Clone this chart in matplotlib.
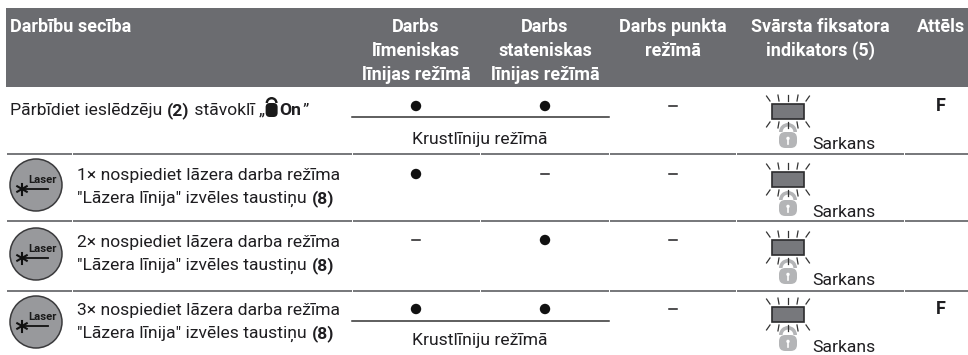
import matplotlib
matplotlib.use('Agg')
import matplotlib.pyplot as plt
from matplotlib.patches import Rectangle, Circle, FancyBboxPatch, Wedge
import numpy as np

plt.rcParams['font.family'] = ['Roboto', 'DejaVu Sans']

col_headers = [
    'Darbs\nlīmeniskas\nlīnijas režīmā',
    'Darbs\nstateniskas\nlīnijas režīmā',
    'Darbs punkta\nrežīmā',
    'Svārsta fiksatora\nindikators (5)',
    'Attēls',
]
first_header = 'Darbību secība'
step_lines = [
    '× nospiediet lāzera darba režīma',
    '"Lāzera līnija" izvēles taustiņu ',
]
# marks per row for the horizontal, vertical and point columns
horizontal = ['dot', 'dot', 'dash', 'dot']
vertical = ['dot', 'dash', 'dot', 'dot']
point = ['dash', 'dash', 'dash', 'dash']
figure_col = ['F', '', '', 'F']
cross_mode = [True, False, False, True]
indicator_text = 'Sarkans'
cross_text = 'Krustlīniju režīmā'

col_x = [416, 545, 673, 820, 941]
col_gaps = [72, 352, 480, 609, 736, 904]
row_lines = [154, 221, 291]
mark_y = [106, 174, 240, 309]
indicator_y = [104, 172, 240, 307]
step_base = [0, 180, 247, 315]
cross_base = [144, 0, 0, 345]
rule_y = [117, 0, 0, 320.5]
button_y = [0, 185, 254, 322]
HEAD = '#6b6c70'
LINE = '#5f6063'
INK = '#1f1e21'
FS = 12.6
FS_HEAD = 13.0

fig = plt.figure(figsize=(9.68, 3.55), dpi=100)
ax = fig.add_axes([0, 0, 1, 1])
ax.set_xlim(0, 968)
ax.set_ylim(355, 0)
ax.axis('off')


def put_runs(x, y, runs, size=FS):
    # text pieces next to each other, bold or regular
    r = fig.canvas.get_renderer()
    for s, weight in runs:
        t = ax.text(x, y, s, fontsize=size, fontweight=weight, color=INK, ha='left', va='baseline')
        x = ax.transData.inverted().transform(t.get_window_extent(r).p1)[0] + 0.5
    return x


def draw_mark(kind, x, y):
    if kind == 'dot':
        ax.add_patch(Circle((x, y), 5.2, fc='#111111', ec='none'))
    else:
        ax.plot([x - 4, x + 4], [y, y], color=INK, lw=1.1)


def draw_lock(x, y, w, h, color, hole='white'):
    ax.add_patch(Wedge((x, y), w / 2, 180, 360, width=w * 0.2, fc=color, ec='none', zorder=3))
    ax.add_patch(FancyBboxPatch((x - w / 2, y), w, h, boxstyle='round,pad=0,rounding_size=%f' % (w * 0.35),
                                fc=color, ec='none', zorder=3))
    if hole:
        ax.add_patch(Circle((x, y + h * 0.4), 1.7, fc=hole, ec='none', zorder=4))
        ax.plot([x, x], [y + h * 0.4, y + h * 0.75], color=hole, lw=1.2, zorder=4)


def draw_indicator(top):
    cx = 788
    draw_lock(cx, top + 28, 18, 16, '#b4b5b7')
    ax.add_patch(Rectangle((cx - 16, top), 32, 15, fc='#77787c', ec='#2c2c2e', lw=1.2, zorder=5))
    for dx, ang in zip([-18, -9, 0, 9, 18], [-35, -10, 0, 10, 35]):
        a = np.radians(ang)
        ax.plot([cx + dx, cx + dx + 6 * np.sin(a)], [top - 3, top - 3 - 6 * np.cos(a)], color='#333333', lw=0.9)
        ax.plot([cx + dx, cx + dx + 6 * np.sin(a)], [top + 18, top + 18 + 6 * np.cos(a)], color='#333333', lw=0.9, zorder=6)
    ax.text(812, top + 45, indicator_text, fontsize=FS, color=INK, ha='left', va='baseline')


def draw_button(y):
    cx = 36
    ax.add_patch(Circle((cx, y), 26, fc='#98999c', ec='#3a3a3c', lw=1.1))
    ax.plot([22, 48], [y + 4, y + 4], color='#111111', lw=1.3)
    for ang in [30, 90, 150]:
        a = np.radians(ang)
        ax.plot([22 - 5.5 * np.cos(a), 22 + 5.5 * np.cos(a)], [y + 4 - 5.5 * np.sin(a), y + 4 + 5.5 * np.sin(a)],
                color='#111111', lw=1.5)
    ax.text(28, y - 2, 'Laser', fontsize=8.2, fontweight='bold', color='#1a1a1a', ha='left', va='baseline')


# header
ax.add_patch(Rectangle((6, 8), 962, 79, fc=HEAD, ec='none'))
ax.text(10, 32.3, first_header, color='white', fontsize=FS_HEAD, fontweight='bold', ha='left', va='baseline')
for h, x in zip(col_headers, col_x):
    for j, s in enumerate(h.split('\n')):
        ax.text(x, 32.3 + j * 23.8, s, color='white', fontsize=FS_HEAD, fontweight='bold', ha='center', va='baseline')

# row rules, with the small gaps at the column edges
edges = [6] + col_gaps + [968]
for y in row_lines:
    for a, b in zip(edges[:-1], edges[1:]):
        ax.plot([a + 0.5, b - 0.5], [y, y], color=LINE, lw=1.2, solid_capstyle='butt')

# first row text
x = put_runs(10, 115, [('Pārbīdiet ieslēdzēju ', 'normal'), ('(2)', 'bold'), (' stāvoklī „', 'normal')])
draw_lock(x + 6, 103, 12, 14, '#1a1a1a', hole=None)
x = put_runs(x + 14, 115, [('On', 'bold'), ('”', 'normal')])

for i, y in enumerate(mark_y):
    draw_indicator(indicator_y[i])
    draw_mark(horizontal[i], col_x[0], y)
    draw_mark(vertical[i], col_x[1], y)
    draw_mark(point[i], col_x[2], y)
    if figure_col[i]:
        ax.text(col_x[4], y, figure_col[i], fontsize=FS_HEAD, fontweight='bold', color=INK, ha='center', va='center')
    if cross_mode[i]:
        ax.plot([352, 609], [rule_y[i], rule_y[i]], color='#333333', lw=1.1)
        ax.text(480, cross_base[i], cross_text, fontsize=FS, color=INK, ha='center', va='baseline')
    if i > 0:
        draw_button(button_y[i])
        put_runs(77, step_base[i], [(str(i) + step_lines[0], 'normal')])
        put_runs(77, step_base[i] + 23, [(step_lines[1], 'normal'), ('(8)', 'bold')])

fig.savefig('out.png', dpi=100)
